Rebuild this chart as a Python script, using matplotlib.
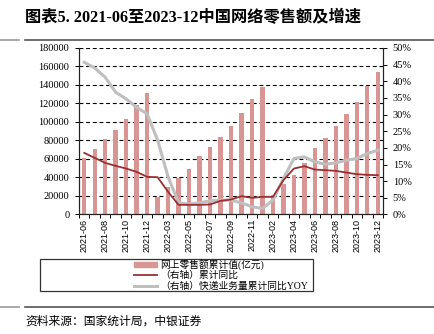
import matplotlib
matplotlib.use("Agg")
import matplotlib.pyplot as plt
import matplotlib.patches as mpatches
from matplotlib.lines import Line2D
import numpy as np

CJK = ["Liberation Serif", "Noto Sans CJK SC"]
plt.rcParams["font.family"] = CJK

months = ["2021-06", "2021-07", "2021-08", "2021-09", "2021-10", "2021-11", "2021-12",
          "2022-02", "2022-03", "2022-04", "2022-05", "2022-06", "2022-07", "2022-08",
          "2022-09", "2022-10", "2022-11", "2022-12",
          "2023-02", "2023-03", "2023-04", "2023-05", "2023-06", "2023-07", "2023-08",
          "2023-09", "2023-10", "2023-11", "2023-12"]

# 网上零售额累计值 (亿元)
retail = [61133, 71023, 81241, 91871, 102765, 118749, 130884,
          18567, 30079, 38970, 48647, 63007, 72470, 83560,
          95873, 109585, 124400, 137853,
          21073, 32863, 42999, 55500, 71621, 82436, 95289,
          108198, 122000, 139000, 154264]

# (右轴) 累计同比, %
retail_yoy = [18.5, 17.0, 15.5, 14.6, 13.8, 12.8, 11.3,
              11.2, 6.8, 2.9, 2.9, 2.9, 3.0, 4.1,
              4.5, 5.5, 5.0, 5.3,
              5.3, 10.3, 13.8, 14.5, 13.5, 13.3, 13.1,
              12.6, 12.1, 11.9, 11.8]

# (右轴) 快递业务量累计同比YOY, %
express_yoy = [45.7, 44.0, 41.2, 36.7, 34.7, 32.2, 30.2,
               22.3, 11.3, 3.5, 3.1, 3.5, 4.1, 4.3,
               4.3, 3.5, 2.3, 1.8,
               4.3, 10.8, 16.8, 17.3, 15.8, 15.1, 15.5,
               16.3, 16.8, 18.3, 19.3]

legend_labels = ["网上零售额累计值(亿元)", "（右轴）累计同比", "（右轴）快递业务量累计同比YOY"]

BAR_C = "#D99594"
RED_C = "#9B2F30"
GRAY_C = "#BFBFBF"

fig = plt.figure(figsize=(4.35, 3.34), dpi=100)
ax = fig.add_axes([0.1816, 0.3578, 0.6989, 0.4985])
ax2 = ax.twinx()

x = np.arange(len(months))
ax.bar(x, retail, width=0.42, color=BAR_C, zorder=2)
ax2.plot(x, express_yoy, color=GRAY_C, lw=2.2, zorder=3)
ax2.plot(x, retail_yoy, color=RED_C, lw=1.3, zorder=4)

ax.set_xlim(-0.5, len(months) - 0.5)
ax.set_ylim(0, 180000)
ax.set_yticks(np.arange(0, 180001, 20000))
ax2.set_ylim(0, 50)
ax2.set_yticks(np.arange(0, 51, 5))
ax2.set_yticklabels([f"{v}%" for v in range(0, 51, 5)])

ax.yaxis.grid(True, color="black", linestyle=(0, (3.5, 2.5)), lw=0.8, zorder=0)
ax.set_axisbelow(True)

ax.set_xticks(x[::2])
ax.set_xticklabels(months[::2], rotation=90, fontsize=6.5, family="Liberation Sans")
ax.set_xticks(np.arange(-0.5, len(months), 1), minor=True)
ax.tick_params(axis="x", which="major", length=0, pad=3)
ax.tick_params(axis="x", which="minor", length=3, width=0.7, direction="out")
ax.tick_params(axis="y", labelsize=7.5, length=3, width=0.7, pad=4)
ax2.tick_params(axis="y", labelsize=7.5, length=3, width=0.7, pad=4)

for a in (ax, ax2):
    a.spines["top"].set_visible(False)
    for s in ("left", "right", "bottom"):
        a.spines[s].set_linewidth(0.8)
        a.spines[s].set_color("#222222")

# title and separator lines
fig.text(25 / 435, 1 - 18 / 334, "图表5. 2021-06至2023-12中国网络零售额及增速",
         fontsize=11.7, fontweight="bold", ha="left", va="center", family=CJK)
for yy in (40, 307):
    fig.add_artist(Line2D([0, 19 / 435], [1 - yy / 334] * 2, color="#999999", lw=1.2))
    fig.add_artist(Line2D([25 / 435, 1], [1 - yy / 334] * 2, color="#555555", lw=1.2))
fig.text(25 / 435, 1 - 322 / 334, "资料来源：国家统计局，中银证券",
         fontsize=8.5, style="italic", ha="left", va="center", family=CJK)

# legend box, drawn by hand so the three rows sit tight
fig.add_artist(mpatches.Rectangle((40 / 435, 1 - 291 / 334), 273 / 435, 32 / 334,
                                  transform=fig.transFigure, fill=False,
                                  edgecolor="#333333", lw=0.9))
row_y = [264.5, 275.3, 286]
fig.add_artist(mpatches.Rectangle((134 / 435, 1 - (row_y[0] + 2.5) / 334), 23 / 435, 5 / 334,
                                  transform=fig.transFigure, color=BAR_C))
fig.add_artist(Line2D([134 / 435, 157 / 435], [1 - row_y[1] / 334] * 2, color=RED_C, lw=1.3))
fig.add_artist(Line2D([134 / 435, 157 / 435], [1 - row_y[2] / 334] * 2, color=GRAY_C, lw=2.2))
for yy, lab in zip(row_y, legend_labels):
    fig.text(160 / 435, 1 - yy / 334, lab, fontsize=7, ha="left", va="center", family=CJK)

fig.savefig("out.png", dpi=100)
